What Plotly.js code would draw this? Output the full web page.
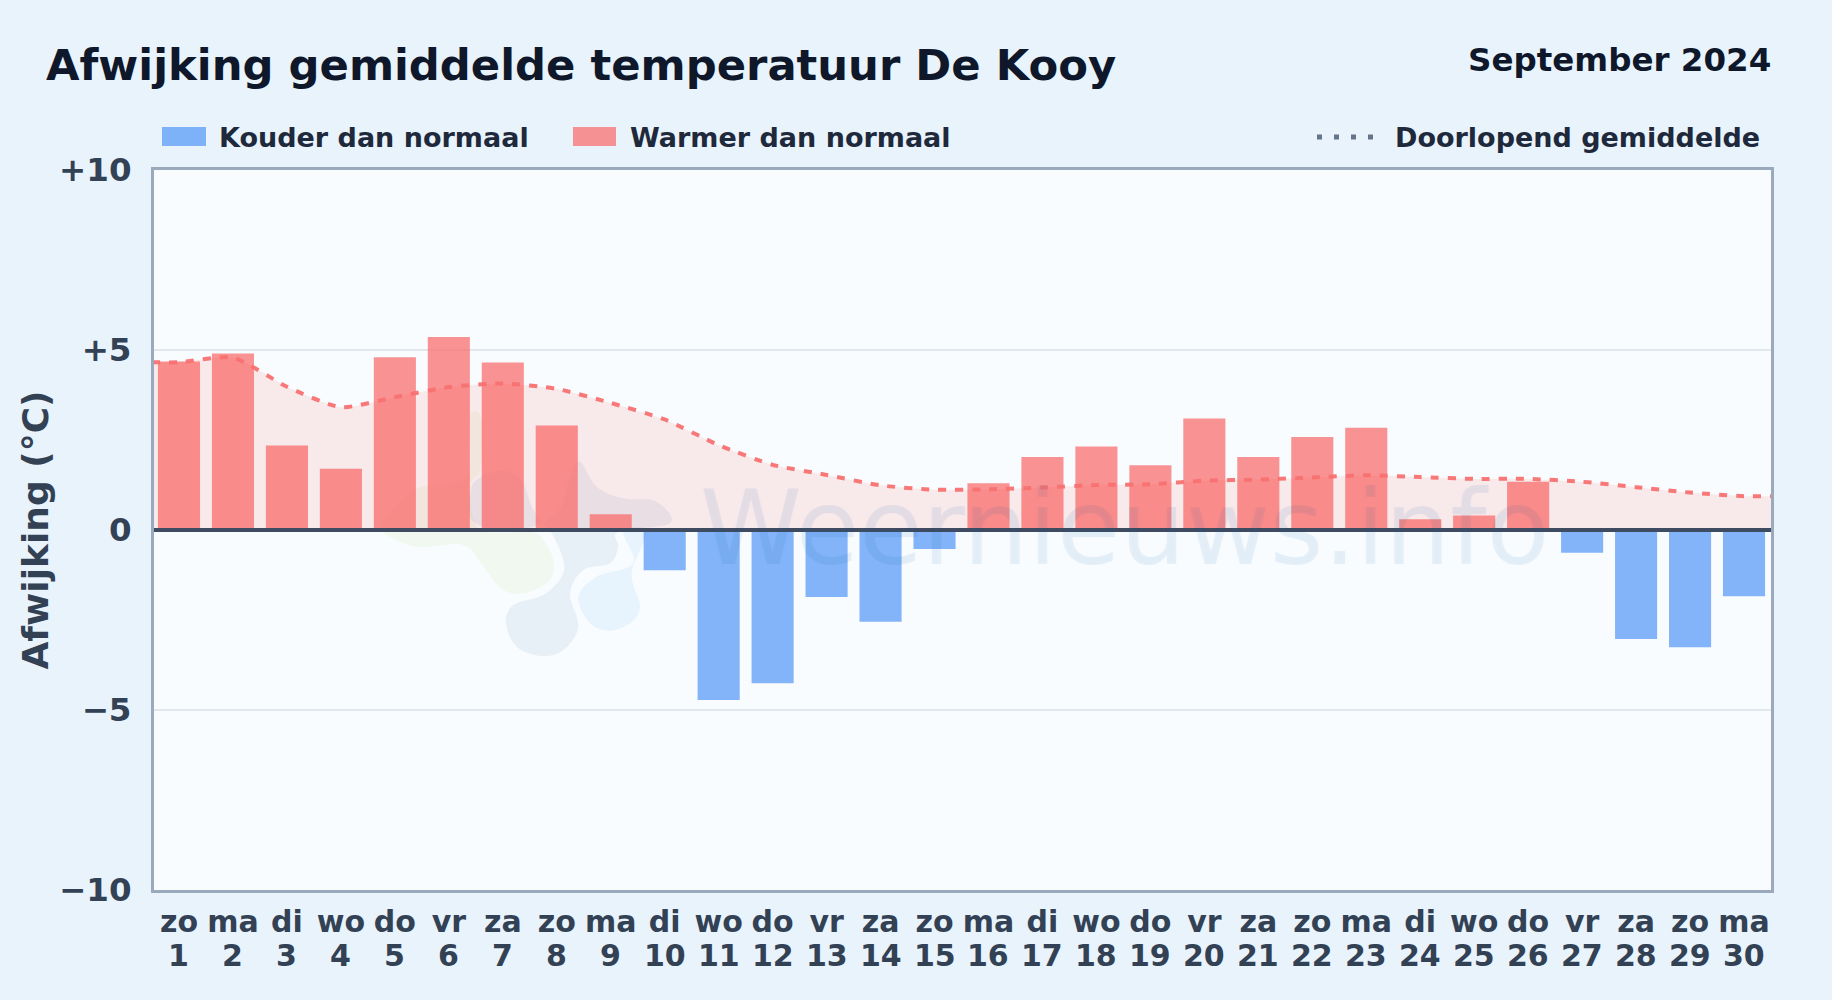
<!DOCTYPE html>
<html>
<head>
<meta charset="utf-8">
<script src="https://cdn.plot.ly/plotly-3.0.1.min.js"></script>
<style>html,body{margin:0;padding:0;background:#e8f3fc;overflow:hidden}#chart{width:1832px;height:1000px}</style>
</head>
<body>
<div id="chart"></div>
<script>
const days = [1,2,3,4,5,6,7,8,9,10,11,12,13,14,15,16,17,18,19,20,21,22,23,24,25,26,27,28,29,30];
const weekdays = ['zo','ma','di','wo','do','vr','za','zo','ma','di','wo','do','vr','za','zo','ma','di','wo','do','vr','za','zo','ma','di','wo','do','vr','za','zo','ma'];
const warmer = [4.68,4.9,2.35,1.7,4.8,5.36,4.65,2.9,0.44,null,null,null,null,null,null,1.3,2.03,2.32,1.8,3.1,2.03,2.58,2.84,0.3,0.4,1.34,null,null,null,null];
const kouder = [null,null,null,null,null,null,null,null,null,-1.12,-4.72,-4.26,-1.86,-2.55,-0.53,null,null,null,null,null,null,null,null,null,null,null,-0.63,-3.03,-3.26,-1.84];
const gemiddelde = [4.66,4.79,3.98,3.41,3.69,3.97,4.07,3.92,3.53,3.07,2.36,1.81,1.53,1.24,1.12,1.13,1.18,1.25,1.27,1.37,1.40,1.46,1.52,1.47,1.42,1.42,1.34,1.19,1.04,0.94];
const yTicks = [-10,-5,0,5,10];
const yTickText = ['−10','−5','0','+5','+10'];
const xRange = [0.537,30.5];

const W=1832,H=1000,L=154,R=1771,T=170,B=890;
const px=x=>((x-L)/(R-L)).toFixed(5), py=y=>((B-y)/(B-T)).toFixed(5);
const F='"DejaVu Sans", sans-serif';

// watermark outlines (zoom points of the logo, decoration only)
function blob(pts){
  const P=pts.map(p=>[370+p[0]/3,400+p[1]/3]),n=P.length;
  let d=`M${px(P[0][0])},${py(P[0][1])}`;
  for(let i=0;i<n;i++){
    const a=P[(i-1+n)%n],b=P[i],c=P[(i+1)%n],e=P[(i+2)%n];
    const c1=[b[0]+(c[0]-a[0])/6,b[1]+(c[1]-a[1])/6],c2=[c[0]-(e[0]-b[0])/6,c[1]-(e[1]-b[1])/6];
    d+=`C${px(c1[0])},${py(c1[1])} ${px(c2[0])},${py(c2[1])} ${px(c[0])},${py(c[1])}`;
  }
  return d+'Z';
}
const logoBlue=[[630,185],[680,260],[760,295],[860,305],[900,370],[745,395],[745,440],[720,490],[640,510],[600,580],[625,680],[580,750],[515,768],[440,740],[408,670],[430,615],[520,585],[575,530],[580,480],[545,400],[490,330],[460,250],[420,215],[360,220],[305,260],[310,365],[440,390],[560,340],[600,230]];
const logoGreen=[[40,395],[140,440],[280,435],[340,500],[400,570],[470,578],[540,540],[550,480],[520,420],[480,395],[330,390],[300,260],[330,210],[335,60],[300,50],[290,230],[140,265],[60,340]];
const logoSky=[[625,590],[680,530],[790,490],[760,395],[830,395],[785,520],[810,620],[780,670],[720,692],[660,670]];
const shapeOf=(d,c)=>({type:'path',xref:'paper',yref:'paper',path:d,fillcolor:c,line:{width:0},layer:'below'});

const traces=[
 {type:'scatter',mode:'lines',name:'Doorlopend gemiddelde',x:[0.5,...days,30.5],y:[gemiddelde[0],...gemiddelde,gemiddelde[29]],
  line:{color:'rgba(248,113,113,0.95)',width:4,dash:'8px,9px',shape:'spline',smoothing:0.6},fill:'tozeroy',fillcolor:'rgba(255,70,60,0.10)',showlegend:false,hoverinfo:'skip'},
 {type:'bar',name:'Warmer dan normaal',x:days,y:warmer,width:0.78,marker:{color:'rgba(248,113,113,0.76)',line:{width:0}},showlegend:false},
 {type:'bar',name:'Kouder dan normaal',x:days,y:kouder,width:0.78,marker:{color:'rgba(59,135,246,0.62)',line:{width:0}},showlegend:false}
];
const ann=(text,x,y,size,color,anchor,extra)=>Object.assign({text:`<b>${text}</b>`,xref:'paper',yref:'paper',x:px(x),y:py(y),xanchor:anchor,yanchor:'middle',showarrow:false,font:{family:F,size:size,color:color}},extra||{});
const dayLabels=days.map(d=>({text:`<b>${d}</b>`,xref:'x',yref:'paper',x:d,y:py(955),xanchor:'center',yanchor:'middle',showarrow:false,font:{family:F,size:30,color:'#334155'}}));
const wmC='rgba(30,100,180,0.08)';
const layout={
 width:W,height:H,paper_bgcolor:'#e8f3fc',plot_bgcolor:'#f8fcff',
 margin:{l:L,r:W-R,t:T,b:H-B,pad:0},
 barmode:'overlay',showlegend:false,
 title:{text:'<b>Afwijking gemiddelde temperatuur De Kooy</b>',x:46/W,xanchor:'left',xref:'container',y:1-65/H,yanchor:'middle',font:{family:F,size:43.3,color:'#0f172a'}},
 xaxis:{range:xRange,tickvals:days,ticktext:weekdays.map(w=>`<b>${w}</b>`),tickangle:0,showgrid:false,zeroline:false,showline:true,mirror:true,linecolor:'#9aa9bc',linewidth:3,ticks:'',ticklabelstandoff:3,tickfont:{family:F,size:30,color:'#334155'}},
 yaxis:{range:[-10,10],tickvals:yTicks,ticktext:yTickText.map(t=>`<b>${t}</b>`),showgrid:true,gridcolor:'#e1e7ec',gridwidth:1.5,zeroline:false,showline:true,mirror:true,linecolor:'#9aa9bc',linewidth:3,ticks:'',ticklabelstandoff:13,tickfont:{family:F,size:32.5,color:'#334155'},
  title:{text:'<b>Afwijking (°C)</b>',standoff:0,font:{family:F,size:36,color:'#334155'}}},
 annotations:[
  ann('September 2024',1773,60,32.5,'#0f172a','right'),
  ann('Kouder dan normaal',217,137,27,'#1e293b','left'),
  ann('Warmer dan normaal',628,137,27,'#1e293b','left'),
  ann('Doorlopend gemiddelde',1762,137,27,'#1e293b','right'),
  {text:'Weernieuws.info',xref:'paper',yref:'paper',x:px(1124),y:py(528),xanchor:'center',yanchor:'middle',showarrow:false,font:{family:F,size:103,color:wmC,shadow:`1.5px 0 1px ${wmC}, -1.5px 0 1px ${wmC}`}},
  ...dayLabels
 ],
 shapes:[
  shapeOf(blob(logoGreen),'rgba(150,200,60,0.08)'),
  shapeOf(blob(logoBlue),'rgba(30,90,150,0.075)'),
  shapeOf(blob(logoSky),'rgba(90,180,240,0.10)'),
  {type:'rect',xref:'paper',yref:'paper',x0:px(162),x1:px(206),y0:py(127),y1:py(146),fillcolor:'rgba(59,135,246,0.62)',line:{width:0}},
  {type:'rect',xref:'paper',yref:'paper',x0:px(573),x1:px(616),y0:py(127),y1:py(146),fillcolor:'rgba(248,113,113,0.76)',line:{width:0}},
  {type:'line',xref:'paper',yref:'paper',x0:px(1317),x1:px(1378),y0:py(137),y1:py(137),line:{color:'#64748b',width:5,dash:'5px,12px'}},
  {type:'line',xref:'paper',yref:'y',x0:0,x1:1,y0:0,y1:0,layer:'above',line:{color:'#3f4b60',width:4}}
 ]
};
Plotly.newPlot('chart',traces,layout,{displayModeBar:false,staticPlot:true});
</script>
</body>
</html>
